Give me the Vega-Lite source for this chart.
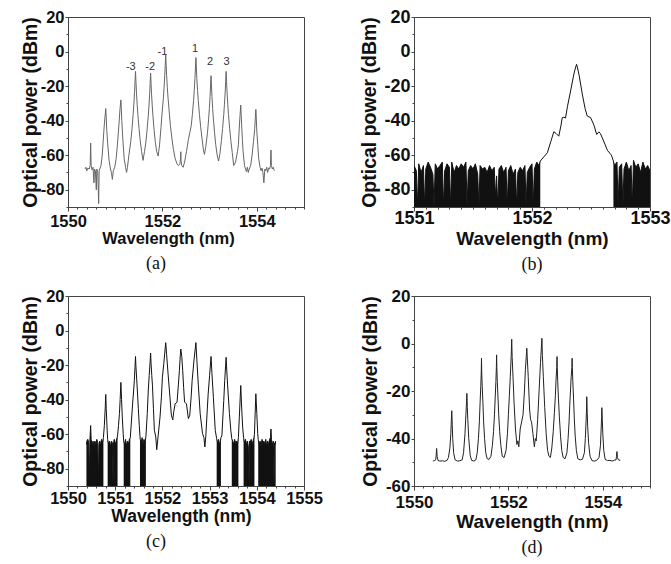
{
"$schema": "https://vega.github.io/schema/vega-lite/v6.json",
"background": "white",
"padding": {"left": 19, "top": 7, "right": 5, "bottom": 5},
"columns": 2,
"spacing": {"row": 89, "column": 110},
"bounds": "flush",
"config": {
 "view": {"stroke": "#444", "strokeWidth": 1},
 "axis": {"grid": false, "labelFont": "Liberation Sans", "labelFontWeight": "bold", "labelColor": "#111", "titleFont": "Liberation Sans", "titleFontWeight": "bold", "titleColor": "#111", "domainColor": "#444", "tickColor": "#444", "labelFlush": false, "labelOverlap": false},
 "title": {"font": "Liberation Serif", "fontWeight": "normal", "color": "#111", "fontSize": 18}
},
"datasets": {
 "a": [
{"x":1550.36,"y":-68},{"x":1550.38,"y":-67},{"x":1550.40,"y":-69},{"x":1550.42,"y":-67.5},{"x":1550.45,"y":-68},{"x":1550.47,"y":-66},{"x":1550.48,"y":-53},{"x":1550.49,"y":-66},{"x":1550.51,"y":-68.5},{"x":1550.53,"y":-67},{"x":1550.55,"y":-76},{"x":1550.56,"y":-68},{"x":1550.58,"y":-69},{"x":1550.60,"y":-80},{"x":1550.61,"y":-68},{"x":1550.63,"y":-70},{"x":1550.65,"y":-88},{"x":1550.66,"y":-69},{"x":1550.68,"y":-67.5},{"x":1550.70,"y":-66},{"x":1550.725,"y":-60},{"x":1550.75,"y":-50},{"x":1550.77,"y":-42},{"x":1550.79,"y":-36},{"x":1550.80,"y":-33},{"x":1550.81,"y":-38},{"x":1550.82,"y":-45},{"x":1550.84,"y":-53},{"x":1550.87,"y":-63},{"x":1550.90,"y":-68},{"x":1550.92,"y":-70},{"x":1550.94,"y":-74},{"x":1550.96,"y":-69},{"x":1550.99,"y":-67},{"x":1551.02,"y":-62},{"x":1551.05,"y":-53},{"x":1551.08,"y":-42},{"x":1551.10,"y":-34},{"x":1551.12,"y":-28},{"x":1551.13,"y":-33},{"x":1551.14,"y":-40},{"x":1551.16,"y":-50},{"x":1551.19,"y":-62},{"x":1551.22,"y":-67},{"x":1551.24,"y":-70},{"x":1551.26,"y":-67},{"x":1551.29,"y":-60},{"x":1551.33,"y":-52},{"x":1551.355,"y":-45},{"x":1551.38,"y":-36.5},{"x":1551.395,"y":-30.5},{"x":1551.41,"y":-23.5},{"x":1551.42,"y":-17.5},{"x":1551.43,"y":-11.5},{"x":1551.44,"y":-17.5},{"x":1551.45,"y":-23.5},{"x":1551.465,"y":-30.5},{"x":1551.48,"y":-36.5},{"x":1551.505,"y":-44.5},{"x":1551.53,"y":-51.5},{"x":1551.56,"y":-58},{"x":1551.59,"y":-63},{"x":1551.62,"y":-58},{"x":1551.65,"y":-52.5},{"x":1551.675,"y":-45.5},{"x":1551.70,"y":-37.5},{"x":1551.715,"y":-31.5},{"x":1551.73,"y":-24.5},{"x":1551.74,"y":-18.5},{"x":1551.75,"y":-12.5},{"x":1551.76,"y":-18.5},{"x":1551.77,"y":-24.5},{"x":1551.785,"y":-31.5},{"x":1551.80,"y":-37.5},{"x":1551.825,"y":-45.5},{"x":1551.85,"y":-52.5},{"x":1551.88,"y":-58},{"x":1551.91,"y":-60.5},{"x":1551.94,"y":-54},{"x":1551.97,"y":-44},{"x":1551.995,"y":-35},{"x":1552.02,"y":-27},{"x":1552.035,"y":-21},{"x":1552.05,"y":-14},{"x":1552.06,"y":-8},{"x":1552.07,"y":-2},{"x":1552.08,"y":-8},{"x":1552.09,"y":-14},{"x":1552.105,"y":-21},{"x":1552.12,"y":-27},{"x":1552.145,"y":-35},{"x":1552.17,"y":-43},{"x":1552.20,"y":-50},{"x":1552.23,"y":-56},{"x":1552.27,"y":-62},{"x":1552.31,"y":-65},{"x":1552.34,"y":-66},{"x":1552.37,"y":-65},{"x":1552.385,"y":-62},{"x":1552.39,"y":-58},{"x":1552.395,"y":-63},{"x":1552.41,"y":-66},{"x":1552.44,"y":-67},{"x":1552.47,"y":-64},{"x":1552.51,"y":-58},{"x":1552.55,"y":-51},{"x":1552.58,"y":-47},{"x":1552.61,"y":-43},{"x":1552.635,"y":-36.5},{"x":1552.66,"y":-28.5},{"x":1552.675,"y":-22.5},{"x":1552.69,"y":-15.5},{"x":1552.70,"y":-9.5},{"x":1552.71,"y":-3.5},{"x":1552.72,"y":-9.5},{"x":1552.73,"y":-15.5},{"x":1552.745,"y":-22.5},{"x":1552.76,"y":-28.5},{"x":1552.785,"y":-36.5},{"x":1552.81,"y":-43.5},{"x":1552.84,"y":-50.5},{"x":1552.87,"y":-57},{"x":1552.89,"y":-59.5},{"x":1552.92,"y":-55},{"x":1552.955,"y":-47},{"x":1552.98,"y":-39},{"x":1552.995,"y":-33},{"x":1553.01,"y":-26},{"x":1553.02,"y":-20},{"x":1553.03,"y":-14},{"x":1553.04,"y":-20},{"x":1553.05,"y":-26},{"x":1553.065,"y":-33},{"x":1553.08,"y":-39},{"x":1553.105,"y":-47},{"x":1553.13,"y":-54},{"x":1553.16,"y":-60},{"x":1553.19,"y":-63.4},{"x":1553.22,"y":-59},{"x":1553.25,"y":-51.5},{"x":1553.275,"y":-44.5},{"x":1553.30,"y":-36.5},{"x":1553.315,"y":-30.5},{"x":1553.33,"y":-23.5},{"x":1553.34,"y":-17.5},{"x":1553.35,"y":-11.5},{"x":1553.36,"y":-17.5},{"x":1553.37,"y":-23.5},{"x":1553.385,"y":-30.5},{"x":1553.40,"y":-36.5},{"x":1553.425,"y":-44.5},{"x":1553.45,"y":-51.5},{"x":1553.48,"y":-58.5},{"x":1553.51,"y":-66},{"x":1553.55,"y":-64},{"x":1553.59,"y":-58},{"x":1553.61,"y":-54},{"x":1553.625,"y":-46},{"x":1553.64,"y":-39},{"x":1553.65,"y":-35},{"x":1553.66,"y":-31},{"x":1553.67,"y":-37},{"x":1553.68,"y":-43},{"x":1553.695,"y":-51},{"x":1553.71,"y":-58},{"x":1553.74,"y":-66},{"x":1553.76,"y":-68},{"x":1553.78,"y":-69.5},{"x":1553.80,"y":-67},{"x":1553.82,"y":-70},{"x":1553.84,"y":-68},{"x":1553.87,"y":-66},{"x":1553.90,"y":-60},{"x":1553.93,"y":-52},{"x":1553.955,"y":-45},{"x":1553.97,"y":-38},{"x":1553.98,"y":-33.5},{"x":1553.99,"y":-39},{"x":1554.00,"y":-46},{"x":1554.02,"y":-54},{"x":1554.04,"y":-62},{"x":1554.07,"y":-67},{"x":1554.09,"y":-69},{"x":1554.11,"y":-67.5},{"x":1554.13,"y":-70},{"x":1554.15,"y":-76},{"x":1554.17,"y":-68},{"x":1554.19,"y":-69},{"x":1554.21,"y":-67},{"x":1554.23,"y":-70},{"x":1554.25,"y":-67.5},{"x":1554.27,"y":-68},{"x":1554.29,"y":-66},{"x":1554.30,"y":-57},{"x":1554.31,"y":-66},{"x":1554.33,"y":-68},{"x":1554.35,"y":-67},{"x":1554.37,"y":-69}
 ],
 "alab": [
{"x":1551.33,"y":-9,"t":"-3"},{"x":1551.74,"y":-9,"t":"-2"},{"x":1552.0,"y":-0.5,"t":"-1"},{"x":1552.69,"y":1.5,"t":"1"},{"x":1553.01,"y":-6,"t":"2"},{"x":1553.36,"y":-6,"t":"3"}
 ],
 "b": [
{"x":1551.00,"y":-66,"s":"L"},{"x":1551.02,"y":-69,"s":"L"},{"x":1551.03,"y":-90,"s":"L"},{"x":1551.04,"y":-65,"s":"L"},{"x":1551.06,"y":-70,"s":"L"},{"x":1551.08,"y":-66,"s":"L"},{"x":1551.09,"y":-90,"s":"L"},{"x":1551.10,"y":-68,"s":"L"},{"x":1551.12,"y":-64,"s":"L"},{"x":1551.14,"y":-67,"s":"L"},{"x":1551.16,"y":-71,"s":"L"},{"x":1551.17,"y":-90,"s":"L"},{"x":1551.18,"y":-65,"s":"L"},{"x":1551.20,"y":-68,"s":"L"},{"x":1551.22,"y":-66,"s":"L"},{"x":1551.24,"y":-64,"s":"L"},{"x":1551.25,"y":-90,"s":"L"},{"x":1551.26,"y":-69,"s":"L"},{"x":1551.28,"y":-65,"s":"L"},{"x":1551.30,"y":-67,"s":"L"},{"x":1551.31,"y":-90,"s":"L"},{"x":1551.32,"y":-64,"s":"L"},{"x":1551.34,"y":-70,"s":"L"},{"x":1551.36,"y":-66,"s":"L"},{"x":1551.38,"y":-68,"s":"L"},{"x":1551.40,"y":-65,"s":"L"},{"x":1551.42,"y":-67,"s":"L"},{"x":1551.44,"y":-64,"s":"L"},{"x":1551.45,"y":-90,"s":"L"},{"x":1551.46,"y":-69,"s":"L"},{"x":1551.48,"y":-66,"s":"L"},{"x":1551.50,"y":-68,"s":"L"},{"x":1551.52,"y":-65,"s":"L"},{"x":1551.54,"y":-71,"s":"L"},{"x":1551.55,"y":-90,"s":"L"},{"x":1551.56,"y":-66,"s":"L"},{"x":1551.58,"y":-68,"s":"L"},{"x":1551.60,"y":-67,"s":"L"},{"x":1551.62,"y":-70,"s":"L"},{"x":1551.64,"y":-66,"s":"L"},{"x":1551.66,"y":-69,"s":"L"},{"x":1551.68,"y":-67,"s":"L"},{"x":1551.69,"y":-84,"s":"L"},{"x":1551.70,"y":-72,"s":"L"},{"x":1551.71,"y":-90,"s":"L"},{"x":1551.72,"y":-68,"s":"L"},{"x":1551.74,"y":-66,"s":"L"},{"x":1551.76,"y":-70,"s":"L"},{"x":1551.78,"y":-67,"s":"L"},{"x":1551.79,"y":-90,"s":"L"},{"x":1551.80,"y":-69,"s":"L"},{"x":1551.82,"y":-66,"s":"L"},{"x":1551.84,"y":-71,"s":"L"},{"x":1551.86,"y":-68,"s":"L"},{"x":1551.87,"y":-90,"s":"L"},{"x":1551.88,"y":-70,"s":"L"},{"x":1551.90,"y":-67,"s":"L"},{"x":1551.92,"y":-69,"s":"L"},{"x":1551.94,"y":-66,"s":"L"},{"x":1551.95,"y":-90,"s":"L"},{"x":1551.96,"y":-70,"s":"L"},{"x":1551.98,"y":-67,"s":"L"},{"x":1552.00,"y":-65,"s":"L"},{"x":1552.01,"y":-90,"s":"L"},{"x":1552.02,"y":-68,"s":"L"},{"x":1552.04,"y":-64,"s":"L"},{"x":1552.06,"y":-66,"s":"L"},{"x":1552.07,"y":-63.4,"s":"L"},
{"x":1552.10,"y":-61},{"x":1552.13,"y":-58.6},{"x":1552.16,"y":-52},{"x":1552.185,"y":-46.4},{"x":1552.205,"y":-47.5},{"x":1552.227,"y":-49},{"x":1552.245,"y":-43},{"x":1552.256,"y":-38.3},{"x":1552.27,"y":-38},{"x":1552.284,"y":-38.5},{"x":1552.30,"y":-32},{"x":1552.327,"y":-22.8},{"x":1552.355,"y":-13},{"x":1552.37,"y":-9},{"x":1552.378,"y":-7.4},{"x":1552.386,"y":-9.5},{"x":1552.40,"y":-14},{"x":1552.426,"y":-24.6},{"x":1552.45,"y":-33},{"x":1552.468,"y":-37.3},{"x":1552.497,"y":-38.3},{"x":1552.525,"y":-42.6},{"x":1552.548,"y":-48},{"x":1552.567,"y":-46.5},{"x":1552.58,"y":-47.5},{"x":1552.596,"y":-50},{"x":1552.62,"y":-54},{"x":1552.639,"y":-57.2},{"x":1552.673,"y":-60},
{"x":1552.69,"y":-63.4,"s":"R"},{"x":1552.70,"y":-66,"s":"R"},{"x":1552.72,"y":-64,"s":"R"},{"x":1552.73,"y":-90,"s":"R"},{"x":1552.74,"y":-67,"s":"R"},{"x":1552.76,"y":-65,"s":"R"},{"x":1552.77,"y":-90,"s":"R"},{"x":1552.78,"y":-68,"s":"R"},{"x":1552.80,"y":-64,"s":"R"},{"x":1552.82,"y":-69,"s":"R"},{"x":1552.84,"y":-66,"s":"R"},{"x":1552.85,"y":-90,"s":"R"},{"x":1552.86,"y":-63,"s":"R"},{"x":1552.88,"y":-67,"s":"R"},{"x":1552.90,"y":-65,"s":"R"},{"x":1552.92,"y":-70,"s":"R"},{"x":1552.94,"y":-64,"s":"R"},{"x":1552.96,"y":-68,"s":"R"},{"x":1552.98,"y":-66,"s":"R"},{"x":1553.00,"y":-69,"s":"R"}
 ],
 "c": [
{"x":1550.39,"y":-66,"s":"c1"},{"x":1550.40,"y":-64,"s":"c1"},{"x":1550.42,"y":-63,"s":"c1"},{"x":1550.44,"y":-65,"s":"c1"},{"x":1550.455,"y":-90,"s":"c1"},{"x":1550.465,"y":-63,"s":"c1"},{"x":1550.48,"y":-55,"s":"c1"},{"x":1550.49,"y":-63,"s":"c1"},{"x":1550.51,"y":-66,"s":"c1"},{"x":1550.53,"y":-64,"s":"c1"},{"x":1550.55,"y":-67,"s":"c1"},{"x":1550.57,"y":-64,"s":"c1"},{"x":1550.59,"y":-66,"s":"c1"},{"x":1550.61,"y":-63,"s":"c1"},{"x":1550.63,"y":-65,"s":"c1"},{"x":1550.645,"y":-90,"s":"c1"},{"x":1550.655,"y":-66,"s":"c1"},{"x":1550.67,"y":-64,"s":"c1"},{"x":1550.69,"y":-66,"s":"c1"},{"x":1550.71,"y":-63,"s":"c1"},{"x":1550.73,"y":-65,"s":"c1"},{"x":1550.75,"y":-62,"s":"c1"},
{"x":1550.77,"y":-55},{"x":1550.79,"y":-44},{"x":1550.80,"y":-37},{"x":1550.81,"y":-45},{"x":1550.83,"y":-58},
{"x":1550.84,"y":-63,"s":"c2"},{"x":1550.86,"y":-66,"s":"c2"},{"x":1550.88,"y":-64,"s":"c2"},{"x":1550.90,"y":-67,"s":"c2"},{"x":1550.92,"y":-64,"s":"c2"},{"x":1550.94,"y":-65,"s":"c2"},{"x":1550.955,"y":-90,"s":"c2"},{"x":1550.965,"y":-65,"s":"c2"},{"x":1550.98,"y":-63,"s":"c2"},{"x":1551.00,"y":-66,"s":"c2"},{"x":1551.02,"y":-64,"s":"c2"},{"x":1551.04,"y":-62,"s":"c2"},{"x":1551.05,"y":-61,"s":"c2"},
{"x":1551.07,"y":-55},{"x":1551.09,"y":-48},{"x":1551.105,"y":-40},{"x":1551.12,"y":-30},{"x":1551.135,"y":-40},{"x":1551.15,"y":-50},{"x":1551.17,"y":-60},
{"x":1551.18,"y":-64,"s":"c3"},{"x":1551.20,"y":-66,"s":"c3"},{"x":1551.22,"y":-63,"s":"c3"},{"x":1551.24,"y":-67,"s":"c3"},{"x":1551.26,"y":-64,"s":"c3"},{"x":1551.28,"y":-66,"s":"c3"},{"x":1551.30,"y":-63,"s":"c3"},{"x":1551.32,"y":-62,"s":"c3"},
{"x":1551.35,"y":-50},{"x":1551.37,"y":-42},{"x":1551.39,"y":-35},{"x":1551.405,"y":-29},{"x":1551.42,"y":-21},{"x":1551.43,"y":-15},{"x":1551.44,"y":-21},{"x":1551.455,"y":-28},{"x":1551.47,"y":-35},{"x":1551.49,"y":-45},{"x":1551.51,"y":-55},
{"x":1551.525,"y":-61,"s":"c4"},{"x":1551.53,"y":-63,"s":"c4"},{"x":1551.55,"y":-65,"s":"c4"},{"x":1551.57,"y":-62,"s":"c4"},{"x":1551.59,"y":-66,"s":"c4"},{"x":1551.61,"y":-63,"s":"c4"},{"x":1551.63,"y":-65,"s":"c4"},{"x":1551.65,"y":-61.6,"s":"c4"},
{"x":1551.68,"y":-48},{"x":1551.70,"y":-35},{"x":1551.72,"y":-26},{"x":1551.74,"y":-18},{"x":1551.75,"y":-13},{"x":1551.76,"y":-19},{"x":1551.775,"y":-26},{"x":1551.79,"y":-32},{"x":1551.81,"y":-45},{"x":1551.83,"y":-57.8},{"x":1551.86,"y":-61.6},{"x":1551.88,"y":-69},{"x":1551.91,"y":-61},{"x":1551.95,"y":-50},{"x":1551.98,"y":-38},{"x":1552.00,"y":-27},{"x":1552.03,"y":-19},{"x":1552.05,"y":-13},{"x":1552.07,"y":-7},{"x":1552.09,"y":-14},{"x":1552.12,"y":-25},{"x":1552.16,"y":-38.6},{"x":1552.19,"y":-49},{"x":1552.22,"y":-51.7},{"x":1552.24,"y":-47},{"x":1552.27,"y":-42.4},{"x":1552.31,"y":-41.5},{"x":1552.34,"y":-31},{"x":1552.36,"y":-23},{"x":1552.38,"y":-14},{"x":1552.39,"y":-10.7},{"x":1552.41,"y":-15},{"x":1552.43,"y":-23},{"x":1552.45,"y":-33},{"x":1552.47,"y":-41.5},{"x":1552.51,"y":-42.4},{"x":1552.55,"y":-51},{"x":1552.58,"y":-49},{"x":1552.61,"y":-38},{"x":1552.63,"y":-29},{"x":1552.67,"y":-17},{"x":1552.71,"y":-7},{"x":1552.73,"y":-17},{"x":1552.76,"y":-31},{"x":1552.80,"y":-48},{"x":1552.85,"y":-59.7},{"x":1552.88,"y":-62},{"x":1552.90,"y":-67.4},{"x":1552.92,"y":-61},{"x":1552.95,"y":-46},{"x":1552.97,"y":-36.6},{"x":1553.00,"y":-26},{"x":1553.03,"y":-15},{"x":1553.05,"y":-25},{"x":1553.08,"y":-38.6},{"x":1553.12,"y":-57.8},
{"x":1553.15,"y":-62.6,"s":"c5"},{"x":1553.17,"y":-65,"s":"c5"},{"x":1553.19,"y":-63,"s":"c5"},{"x":1553.21,"y":-66,"s":"c5"},{"x":1553.23,"y":-64,"s":"c5"},{"x":1553.24,"y":-62,"s":"c5"},
{"x":1553.26,"y":-61},{"x":1553.30,"y":-40.6},{"x":1553.32,"y":-29},{"x":1553.34,"y":-20},{"x":1553.35,"y":-15.5},{"x":1553.36,"y":-21},{"x":1553.38,"y":-31},{"x":1553.42,"y":-48},{"x":1553.45,"y":-58},
{"x":1553.47,"y":-62.6,"s":"c6"},{"x":1553.49,"y":-64,"s":"c6"},{"x":1553.51,"y":-66,"s":"c6"},{"x":1553.53,"y":-63,"s":"c6"},{"x":1553.55,"y":-65,"s":"c6"},{"x":1553.57,"y":-64,"s":"c6"},{"x":1553.59,"y":-66,"s":"c6"},{"x":1553.61,"y":-62,"s":"c6"},
{"x":1553.63,"y":-50},{"x":1553.65,"y":-38},{"x":1553.66,"y":-31.8},{"x":1553.675,"y":-42},{"x":1553.70,"y":-55.8},
{"x":1553.72,"y":-62,"s":"c7"},{"x":1553.74,"y":-65,"s":"c7"},{"x":1553.76,"y":-63,"s":"c7"},{"x":1553.78,"y":-66,"s":"c7"},{"x":1553.80,"y":-64,"s":"c7"},{"x":1553.82,"y":-67,"s":"c7"},{"x":1553.835,"y":-90,"s":"c7"},{"x":1553.845,"y":-64,"s":"c7"},{"x":1553.86,"y":-65,"s":"c7"},{"x":1553.88,"y":-63,"s":"c7"},{"x":1553.90,"y":-66,"s":"c7"},{"x":1553.92,"y":-64,"s":"c7"},{"x":1553.94,"y":-62,"s":"c7"},{"x":1553.95,"y":-60,"s":"c7"},
{"x":1553.96,"y":-52},{"x":1553.98,"y":-36.6},{"x":1554.00,"y":-48},{"x":1554.02,"y":-59.7},
{"x":1554.03,"y":-63,"s":"c8"},{"x":1554.05,"y":-66,"s":"c8"},{"x":1554.07,"y":-64,"s":"c8"},{"x":1554.09,"y":-67,"s":"c8"},{"x":1554.11,"y":-63,"s":"c8"},{"x":1554.13,"y":-65,"s":"c8"},{"x":1554.15,"y":-64,"s":"c8"},{"x":1554.17,"y":-66,"s":"c8"},{"x":1554.19,"y":-63,"s":"c8"},{"x":1554.21,"y":-67,"s":"c8"},{"x":1554.23,"y":-64,"s":"c8"},{"x":1554.25,"y":-66,"s":"c8"},{"x":1554.27,"y":-63,"s":"c8"},{"x":1554.29,"y":-62,"s":"c8"},{"x":1554.30,"y":-57,"s":"c8"},{"x":1554.31,"y":-63,"s":"c8"},{"x":1554.33,"y":-66,"s":"c8"},{"x":1554.35,"y":-64,"s":"c8"},{"x":1554.365,"y":-90,"s":"c8"},{"x":1554.375,"y":-65,"s":"c8"},{"x":1554.39,"y":-66,"s":"c8"},{"x":1554.40,"y":-64,"s":"c8"}
 ],
 "d": [
{"x":1550.40,"y":-49.5},{"x":1550.43,"y":-49.3},{"x":1550.46,"y":-49},{"x":1550.47,"y":-47},{"x":1550.48,"y":-44.2},{"x":1550.49,"y":-47.5},{"x":1550.51,"y":-49.3},{"x":1550.55,"y":-49.5},{"x":1550.60,"y":-49.4},{"x":1550.65,"y":-49.6},{"x":1550.70,"y":-49.2},{"x":1550.73,"y":-48},{"x":1550.76,"y":-44},{"x":1550.78,"y":-38},{"x":1550.79,"y":-33},{"x":1550.80,"y":-28.3},{"x":1550.81,"y":-34},{"x":1550.82,"y":-40},{"x":1550.84,"y":-46},{"x":1550.87,"y":-49},{"x":1550.92,"y":-49.5},{"x":1550.97,"y":-49.4},{"x":1551.02,"y":-49},{"x":1551.05,"y":-46},{"x":1551.08,"y":-38},{"x":1551.10,"y":-30},{"x":1551.11,"y":-26},{"x":1551.12,"y":-21},{"x":1551.13,"y":-27},{"x":1551.14,"y":-32},{"x":1551.16,"y":-40},{"x":1551.19,"y":-47},{"x":1551.22,"y":-49.2},{"x":1551.27,"y":-49.5},{"x":1551.31,"y":-49},{"x":1551.34,"y":-46},{"x":1551.365,"y":-40},{"x":1551.385,"y":-33},{"x":1551.40,"y":-25},{"x":1551.415,"y":-18},{"x":1551.425,"y":-12},{"x":1551.43,"y":-6.2},{"x":1551.435,"y":-12},{"x":1551.445,"y":-18},{"x":1551.46,"y":-25},{"x":1551.475,"y":-33},{"x":1551.495,"y":-40},{"x":1551.52,"y":-46},{"x":1551.55,"y":-48.5},{"x":1551.59,"y":-48.8},{"x":1551.63,"y":-47.5},{"x":1551.66,"y":-43},{"x":1551.685,"y":-37},{"x":1551.705,"y":-30},{"x":1551.72,"y":-23},{"x":1551.735,"y":-16},{"x":1551.745,"y":-10},{"x":1551.75,"y":-4.8},{"x":1551.755,"y":-10},{"x":1551.765,"y":-16},{"x":1551.78,"y":-23},{"x":1551.795,"y":-30},{"x":1551.815,"y":-37},{"x":1551.84,"y":-43},{"x":1551.87,"y":-47.5},{"x":1551.91,"y":-48},{"x":1551.95,"y":-45},{"x":1551.98,"y":-38},{"x":1552.00,"y":-30},{"x":1552.02,"y":-22},{"x":1552.04,"y":-14},{"x":1552.06,"y":-5},{"x":1552.07,"y":1.8},{"x":1552.08,"y":-6},{"x":1552.10,"y":-15},{"x":1552.12,"y":-25},{"x":1552.15,"y":-36},{"x":1552.18,"y":-42.5},{"x":1552.20,"y":-41},{"x":1552.22,"y":-43.5},{"x":1552.25,"y":-36},{"x":1552.28,"y":-33},{"x":1552.31,"y":-30},{"x":1552.34,"y":-20},{"x":1552.36,"y":-11},{"x":1552.38,"y":-5},{"x":1552.39,"y":-2},{"x":1552.40,"y":-6},{"x":1552.42,"y":-14},{"x":1552.45,"y":-28},{"x":1552.47,"y":-32},{"x":1552.49,"y":-33},{"x":1552.52,"y":-38},{"x":1552.55,"y":-43.5},{"x":1552.57,"y":-40},{"x":1552.59,"y":-41},{"x":1552.62,"y":-32},{"x":1552.65,"y":-20},{"x":1552.68,"y":-8},{"x":1552.71,"y":2.2},{"x":1552.72,"y":-5},{"x":1552.74,"y":-14},{"x":1552.77,"y":-27},{"x":1552.80,"y":-38},{"x":1552.83,"y":-45},{"x":1552.86,"y":-47.5},{"x":1552.89,"y":-48},{"x":1552.92,"y":-44},{"x":1552.95,"y":-37},{"x":1552.975,"y":-29},{"x":1552.995,"y":-22},{"x":1553.01,"y":-15},{"x":1553.025,"y":-10},{"x":1553.03,"y":-5.5},{"x":1553.035,"y":-10},{"x":1553.045,"y":-16},{"x":1553.06,"y":-23},{"x":1553.08,"y":-31},{"x":1553.105,"y":-39},{"x":1553.13,"y":-45},{"x":1553.16,"y":-48},{"x":1553.20,"y":-48.5},{"x":1553.24,"y":-46},{"x":1553.265,"y":-40},{"x":1553.285,"y":-33},{"x":1553.30,"y":-26},{"x":1553.315,"y":-20},{"x":1553.33,"y":-14},{"x":1553.345,"y":-10},{"x":1553.35,"y":-6.2},{"x":1553.355,"y":-10},{"x":1553.365,"y":-16},{"x":1553.38,"y":-23},{"x":1553.395,"y":-31},{"x":1553.415,"y":-39},{"x":1553.44,"y":-45},{"x":1553.47,"y":-48.5},{"x":1553.52,"y":-49},{"x":1553.57,"y":-48.7},{"x":1553.61,"y":-46},{"x":1553.63,"y":-40},{"x":1553.645,"y":-33},{"x":1553.655,"y":-28},{"x":1553.66,"y":-22.4},{"x":1553.67,"y":-29},{"x":1553.68,"y":-35},{"x":1553.70,"y":-42},{"x":1553.73,"y":-47.5},{"x":1553.77,"y":-49.3},{"x":1553.82,"y":-49.5},{"x":1553.87,"y":-49.2},{"x":1553.92,"y":-48},{"x":1553.95,"y":-43},{"x":1553.965,"y":-36},{"x":1553.975,"y":-31},{"x":1553.98,"y":-27},{"x":1553.99,"y":-32},{"x":1554.00,"y":-38},{"x":1554.02,"y":-45},{"x":1554.05,"y":-48.8},{"x":1554.10,"y":-49.3},{"x":1554.15,"y":-49.2},{"x":1554.20,"y":-49.5},{"x":1554.25,"y":-49.1},{"x":1554.28,"y":-49},{"x":1554.29,"y":-47.5},{"x":1554.30,"y":-45.5},{"x":1554.31,"y":-48},{"x":1554.33,"y":-49},{"x":1554.37,"y":-49.2}
 ]
},
"concat": [
 {
  "width": 236, "height": 190,
  "data": {"name": "a"},
  "title": {"text": "(a)", "orient": "bottom", "anchor": "middle", "dx": -30, "offset": 8},
  "encoding": {
   "x": {"field": "x", "type": "quantitative", "scale": {"domain": [1550, 1555], "nice": false, "zero": false},
     "axis": {"title": "Wavelength (nm)", "labelOverlap": false, "values": [1550,1550.2,1550.4,1550.6,1550.8,1551,1551.2,1551.4,1551.6,1551.8,1552,1552.2,1552.4,1552.6,1552.8,1553,1553.2,1553.4,1553.6,1553.8,1554,1554.2,1554.4,1554.6,1554.8,1555],
      "labelExpr": "datum.value % 2 === 0 ? '' + datum.value : ''",
      "tickSize": {"condition": {"test": "datum.value % 2 !== 0", "value": 2}, "value": 4},
      "labelFontSize": 16.5, "labelBaseline": "middle", "labelPadding": 10,
      "titleFontSize": 16.5, "titleX": 100, "titleY": 31, "titleBaseline": "middle"}},
   "y": {"field": "y", "type": "quantitative", "scale": {"domain": [-90, 20], "nice": false, "zero": false},
     "axis": {"title": "Optical power (dBm)", "labelOverlap": false, "values": [-90,-80,-70,-60,-50,-40,-30,-20,-10,0,10,20],
      "labelExpr": "datum.value % 20 === 0 ? '' + datum.value : ''",
      "tickSize": {"condition": {"test": "datum.value % 20 !== 0", "value": 2}, "value": 3},
      "labelFontSize": 16.5, "labelPadding": 1,
      "titleFontSize": 19.5, "titleX": -38, "titleBaseline": "middle"}}
  },
  "layer": [
   {"mark": {"type": "line", "color": "#666", "strokeWidth": 1, "clip": true}},
   {"data": {"name": "alab"},
    "mark": {"type": "text", "font": "Liberation Sans", "fontSize": 11, "color": "#333"},
    "encoding": {"text": {"field": "t"}}}
  ]
 },
 {
  "width": 236, "height": 190,
  "data": {"name": "b"},
  "title": {"text": "(b)", "orient": "bottom", "anchor": "middle", "dx": 0, "offset": 8},
  "encoding": {
   "x": {"field": "x", "type": "quantitative", "scale": {"domain": [1551, 1553], "nice": false, "zero": false},
     "axis": {"title": "Wavelength (nm)", "labelOverlap": false, "values": [1551,1551.1,1551.2,1551.3,1551.4,1551.5,1551.6,1551.7,1551.8,1551.9,1552,1552.1,1552.2,1552.3,1552.4,1552.5,1552.6,1552.7,1552.8,1552.9,1553],
      "labelExpr": "datum.value % 1 === 0 ? '' + datum.value : ''",
      "tickSize": {"condition": {"test": "datum.value % 1 !== 0", "value": 2}, "value": 4},
      "labelFontSize": 18, "labelBaseline": "middle", "labelPadding": 7,
      "titleFontSize": 19, "titleY": 31, "titleBaseline": "middle"}},
   "y": {"field": "y", "type": "quantitative", "scale": {"domain": [-90, 20], "nice": false, "zero": false},
     "axis": {"title": "Optical power (dBm)", "labelOverlap": false, "values": [-90,-80,-70,-60,-50,-40,-30,-20,-10,0,10,20],
      "labelExpr": "datum.value % 20 === 0 ? '' + datum.value : ''",
      "tickSize": {"condition": {"test": "datum.value % 20 !== 0", "value": 2}, "value": 3},
      "labelFontSize": 18, "labelPadding": 1,
      "titleFontSize": 19.5, "titleX": -45, "titleBaseline": "middle"}}
  },
  "layer": [
   {"transform": [{"filter": "isValid(datum.s)"}],
    "mark": {"type": "area", "color": "#111", "clip": true},
    "encoding": {"y2": {"datum": -90}, "detail": {"field": "s"}}},
   {"mark": {"type": "line", "color": "#111", "strokeWidth": 1, "clip": true}}
  ]
 },
 {
  "width": 236, "height": 190,
  "data": {"name": "c"},
  "title": {"text": "(c)", "orient": "bottom", "anchor": "middle", "dx": -30, "offset": 8},
  "encoding": {
   "x": {"field": "x", "type": "quantitative", "scale": {"domain": [1550, 1555], "nice": false, "zero": false},
     "axis": {"title": "Wavelength (nm)", "labelOverlap": false, "values": [1550,1550.2,1550.4,1550.6,1550.8,1551,1551.2,1551.4,1551.6,1551.8,1552,1552.2,1552.4,1552.6,1552.8,1553,1553.2,1553.4,1553.6,1553.8,1554,1554.2,1554.4,1554.6,1554.8,1555],
      "labelExpr": "datum.value % 1 === 0 ? '' + datum.value : ''",
      "tickSize": {"condition": {"test": "datum.value % 1 !== 0", "value": 2}, "value": 4},
      "labelFontSize": 16.5, "labelBaseline": "middle", "labelPadding": 8,
      "titleFontSize": 17.5, "titleX": 113, "titleY": 30, "titleBaseline": "middle"}},
   "y": {"field": "y", "type": "quantitative", "scale": {"domain": [-90, 20], "nice": false, "zero": false},
     "axis": {"title": "Optical power (dBm)", "labelOverlap": false, "values": [-90,-80,-70,-60,-50,-40,-30,-20,-10,0,10,20],
      "labelExpr": "datum.value % 20 === 0 ? '' + datum.value : ''",
      "tickSize": {"condition": {"test": "datum.value % 20 !== 0", "value": 2}, "value": 3},
      "labelFontSize": 16.5, "labelPadding": 1,
      "titleFontSize": 19.5, "titleX": -38, "titleBaseline": "middle"}}
  },
  "layer": [
   {"transform": [{"filter": "isValid(datum.s)"}],
    "mark": {"type": "area", "color": "#111", "clip": true},
    "encoding": {"y2": {"datum": -90}, "detail": {"field": "s"}}},
   {"mark": {"type": "line", "color": "#111", "strokeWidth": 1, "clip": true}}
  ]
 },
 {
  "width": 236, "height": 190,
  "data": {"name": "d"},
  "title": {"text": "(d)", "orient": "bottom", "anchor": "middle", "dx": 0, "offset": 8},
  "encoding": {
   "x": {"field": "x", "type": "quantitative", "scale": {"domain": [1550, 1555], "nice": false, "zero": false},
     "axis": {"title": "Wavelength (nm)", "labelOverlap": false, "values": [1550,1550.2,1550.4,1550.6,1550.8,1551,1551.2,1551.4,1551.6,1551.8,1552,1552.2,1552.4,1552.6,1552.8,1553,1553.2,1553.4,1553.6,1553.8,1554,1554.2,1554.4,1554.6,1554.8,1555],
      "labelExpr": "datum.value % 2 === 0 ? '' + datum.value : ''",
      "tickSize": {"condition": {"test": "datum.value % 2 !== 0", "value": 2}, "value": 4},
      "labelFontSize": 17, "labelBaseline": "middle", "labelPadding": 12,
      "titleFontSize": 19, "titleY": 35, "titleBaseline": "middle"}},
   "y": {"field": "y", "type": "quantitative", "scale": {"domain": [-60, 20], "nice": false, "zero": false},
     "axis": {"title": "Optical power (dBm)", "labelOverlap": false, "values": [-60,-50,-40,-30,-20,-10,0,10,20],
      "labelExpr": "datum.value % 20 === 0 ? '' + datum.value : ''",
      "tickSize": {"condition": {"test": "datum.value % 20 !== 0", "value": 2}, "value": 3},
      "labelFontSize": 17, "labelPadding": 1,
      "titleFontSize": 19.5, "titleX": -44, "titleBaseline": "middle"}}
  },
  "layer": [
   {"mark": {"type": "line", "color": "#222", "strokeWidth": 1, "clip": true}}
  ]
 }
]
}
